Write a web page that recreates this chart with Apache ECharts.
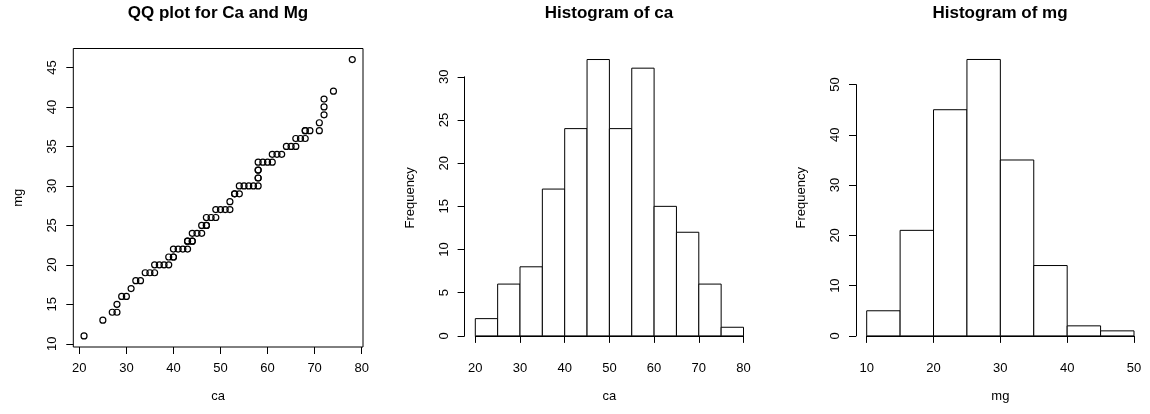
<!DOCTYPE html>
<html>
<head>
<meta charset="utf-8">
<script src="https://cdn.jsdelivr.net/npm/echarts@6/dist/echarts.min.js"></script>
<style>
html,body{margin:0;padding:0;background:#fff;}
#chart{width:1150px;height:414px;}
</style>
</head>
<body>
<div id="chart"></div>
<script>
// ---- Data ----
// QQ plot: sorted ca vs sorted mg (pairs; repeats = overlapping points)
const qqCa = [21,25,27,28,28,29,30,31,32,33,34,35,36,36,37,38,39,39,40,40,40,41,42,43,43,43,44,44,44,45,46,46,47,47,47,48,49,49,50,51,52,52,53,53,54,54,55,56,57,58,58,58,58,58,58,59,60,61,61,62,63,64,65,66,66,67,68,68,68,69,71,71,72,72,72,74,78];
const qqMg = [11,13,14,14,15,16,16,17,18,18,19,19,19,20,20,20,20,21,21,21,22,22,22,22,23,23,23,23,24,24,24,25,25,25,26,26,26,27,27,27,27,28,29,29,29,30,30,30,30,30,31,31,32,32,33,33,33,33,34,34,34,35,35,35,36,36,36,37,37,37,37,38,39,40,41,42,46];

// Histogram of ca
const caBreaks = [20,25,30,35,40,45,50,55,60,65,70,75,80];
const caCounts = [2,6,8,17,24,32,24,31,15,12,6,1];
// Histogram of mg
const mgBreaks = [10,15,20,25,30,35,40,45,50];
const mgCounts = [5,21,45,55,35,14,2,1];

// Tick labels
const qqXTicks = [20,30,40,50,60,70,80];
const qqYTicks = [10,15,20,25,30,35,40,45];

const titles = ['QQ plot for Ca and Mg', 'Histogram of ca', 'Histogram of mg'];

// ---- Build ----
const FONT = 'Liberation Sans, Arial, Helvetica, sans-serif';
const qqData = qqCa.map((c, i) => [c, qqMg[i]]);
function bins(breaks, counts) {
  return counts.map((c, i) => [breaks[i], breaks[i + 1], c]);
}
const black = '#000';
const labelStyle = {color: black, fontSize: 13, fontFamily: FONT};
function nameStyle(shift) {
  return {color: black, fontSize: 13, fontFamily: FONT, padding: [0, 0, 0, shift]};
}

function histRender(params, api) {
  const x0 = api.value(0), x1 = api.value(1), c = api.value(2);
  const p0 = api.coord([x0, c]);
  const p1 = api.coord([x1, 0]);
  return {
    type: 'rect',
    shape: {x: p0[0], y: p0[1], width: p1[0] - p0[0], height: p1[1] - p0[1]},
    style: {fill: '#fff', stroke: black, lineWidth: 1}
  };
}

const axisLineStyle = {show: true, lineStyle: {color: black, width: 1}};
const tickStyle = {show: true, length: 7, lineStyle: {color: black, width: 1}};

const option = {
  backgroundColor: '#fff',
  animation: false,
  title: titles.map((t, i) => ({
    text: t,
    left: [218, 609, 1000][i],
    top: 5,
    textAlign: 'center',
    padding: 0,
    textStyle: {fontSize: 17, fontWeight: 'bold', color: black, fontFamily: FONT}
  })),
  grid: [
    {left: 73.3, top: 48.5, width: 289.7, height: 298.5, show: true, borderColor: black, borderWidth: 1, backgroundColor: 'transparent'},
    {left: 475.3, top: 76.8, width: 268.2, height: 259.1},
    {left: 866.7, top: 84.6, width: 267.3, height: 251.3}
  ],
  xAxis: [
    {
      gridIndex: 0, type: 'value', min: 18.72, max: 80.28,
      axisLine: {show: false},
      axisTick: Object.assign({customValues: qqXTicks}, tickStyle),
      axisLabel: Object.assign({customValues: qqXTicks, margin: 15}, labelStyle),
      splitLine: {show: false},
      name: 'ca', nameLocation: 'middle', nameGap: 43, nameTextStyle: nameStyle(0)
    },
    {
      gridIndex: 1, type: 'value', min: caBreaks[0], max: caBreaks[caBreaks.length - 1], interval: 10,
      offset: 11.1,
      axisLine: axisLineStyle, axisTick: tickStyle,
      axisLabel: Object.assign({margin: 15}, labelStyle),
      splitLine: {show: false},
      name: 'ca', nameLocation: 'middle', nameGap: 43, nameTextStyle: nameStyle(0)
    },
    {
      gridIndex: 2, type: 'value', min: mgBreaks[0], max: mgBreaks[mgBreaks.length - 1], interval: 10,
      offset: 11.1,
      axisLine: axisLineStyle, axisTick: tickStyle,
      axisLabel: Object.assign({margin: 15}, labelStyle),
      splitLine: {show: false},
      name: 'mg', nameLocation: 'middle', nameGap: 43, nameTextStyle: nameStyle(0)
    }
  ],
  yAxis: [
    {
      gridIndex: 0, type: 'value', min: 9.6, max: 47.4,
      axisLine: {show: false},
      axisTick: Object.assign({customValues: qqYTicks}, tickStyle),
      axisLabel: Object.assign({customValues: qqYTicks, rotate: 90, margin: 14}, labelStyle),
      splitLine: {show: false},
      name: 'mg', nameLocation: 'middle', nameRotate: 90, nameGap: 48, nameTextStyle: nameStyle(0)
    },
    {
      gridIndex: 1, type: 'value', min: 0, max: 30, interval: 5,
      offset: 10.7,
      axisLine: axisLineStyle, axisTick: tickStyle,
      axisLabel: Object.assign({rotate: 90, margin: 14}, labelStyle),
      splitLine: {show: false},
      name: 'Frequency', nameLocation: 'middle', nameRotate: 90, nameGap: 48, nameTextStyle: nameStyle(17)
    },
    {
      gridIndex: 2, type: 'value', min: 0, max: 50, interval: 10,
      offset: 10.7,
      axisLine: axisLineStyle, axisTick: tickStyle,
      axisLabel: Object.assign({rotate: 90, margin: 14}, labelStyle),
      splitLine: {show: false},
      name: 'Frequency', nameLocation: 'middle', nameRotate: 90, nameGap: 48, nameTextStyle: nameStyle(25)
    }
  ],
  series: [
    {
      type: 'scatter', xAxisIndex: 0, yAxisIndex: 0,
      data: qqData, symbol: 'circle', symbolSize: 6,
      itemStyle: {color: 'transparent', borderColor: black, borderWidth: 1.2, opacity: 1},
      emphasis: {disabled: true}
    },
    {
      type: 'custom', xAxisIndex: 1, yAxisIndex: 1, clip: false,
      data: bins(caBreaks, caCounts), renderItem: histRender,
      encode: {x: [0, 1], y: 2}
    },
    {
      type: 'custom', xAxisIndex: 2, yAxisIndex: 2, clip: false,
      data: bins(mgBreaks, mgCounts), renderItem: histRender,
      encode: {x: [0, 1], y: 2}
    }
  ]
};

const chart = echarts.init(document.getElementById('chart'), null, {renderer: 'canvas'});
chart.setOption(option);
</script>
</body>
</html>
